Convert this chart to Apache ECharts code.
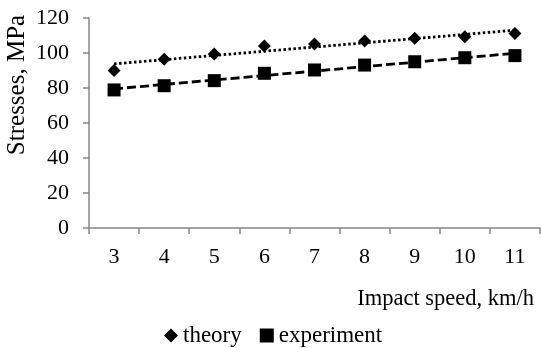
<!DOCTYPE html>
<html>
<head>
<meta charset="utf-8">
<script src="https://cdn.jsdelivr.net/npm/echarts@6/dist/echarts.min.js"></script>
<style>html,body{margin:0;padding:0;background:#fff}#c{width:542px;height:348px}</style>
</head>
<body>
<div id="c"></div>
<script>
// Data
var categories = ['3', '4', '5', '6', '7', '8', '9', '10', '11'];
var speeds = [3, 4, 5, 6, 7, 8, 9, 10, 11];
var theory = [90, 96.4, 99.4, 104, 105.1, 106.9, 108.4, 109.3, 111.2];
var experiment = [78.9, 81.3, 84.2, 88.4, 90.3, 93.1, 95, 97.3, 98.5];
var yTicks = { min: 0, max: 120, interval: 20 };
var xAxisTitle = 'Impact speed, km/h';
var yAxisTitle = 'Stresses, MPa';

// Linear trend lines (least squares of the read data, as in the source spreadsheet)
function linearTrend(xs, ys) {
  var n = xs.length, mx = 0, my = 0;
  for (var i = 0; i < n; i++) { mx += xs[i]; my += ys[i]; }
  mx /= n; my /= n;
  var sxy = 0, sxx = 0;
  for (var j = 0; j < n; j++) { sxy += (xs[j] - mx) * (ys[j] - my); sxx += (xs[j] - mx) * (xs[j] - mx); }
  var b = sxy / sxx, a = my - b * mx;
  return xs.map(function (x) { return +(a + b * x).toFixed(3); });
}
var theoryTrend = linearTrend(speeds, theory);
var experimentTrend = linearTrend(speeds, experiment);

var FONT = 'Liberation Serif';
var AXIS_COLOR = '#868686';
var labelStyle = { color: '#000', fontFamily: FONT, fontSize: 22, fontWeight: 'normal', fontStyle: 'normal' };
var legendText = { color: '#000', fontFamily: FONT, fontSize: 23, fontWeight: 'normal', fontStyle: 'normal' };

var chart = echarts.init(document.getElementById('c'), null, { renderer: 'canvas' });
chart.setOption({
  animation: false,
  backgroundColor: '#fff',
  textStyle: { fontFamily: FONT },
  grid: { left: 89, right: 2, top: 18, bottom: 120, containLabel: false },
  xAxis: {
    type: 'category',
    data: categories,
    boundaryGap: true,
    axisLine: { show: true, lineStyle: { color: AXIS_COLOR, width: 1.5 } },
    axisTick: { show: true, inside: false, length: 6, lineStyle: { color: AXIS_COLOR, width: 1.5 } },
    axisLabel: Object.assign({ margin: 18 }, labelStyle),
    splitLine: { show: false }
  },
  yAxis: {
    type: 'value',
    min: yTicks.min, max: yTicks.max, interval: yTicks.interval,
    axisLine: { show: true, lineStyle: { color: AXIS_COLOR, width: 1.5 } },
    axisTick: { show: true, inside: false, length: 6, lineStyle: { color: AXIS_COLOR, width: 1.5 } },
    axisLabel: Object.assign({ margin: 20 }, labelStyle),
    splitLine: { show: false }
  },
  legend: {
    left: 159, top: 319,
    itemWidth: 14, itemHeight: 14, itemGap: 18,
    formatter: function (name) { return '{t|' + name + '}'; },
    textStyle: Object.assign({ rich: { t: legendText } }, legendText),
    data: [
      { name: 'theory', icon: 'diamond' },
      { name: 'experiment', icon: 'rect' }
    ]
  },
  graphic: [
    {
      type: 'text', x: 534, y: 299,
      style: { text: xAxisTitle, fill: '#000', fontFamily: FONT, fontSize: 22.5, align: 'right', verticalAlign: 'middle' }
    },
    {
      type: 'text', x: 17, y: 85, rotation: Math.PI / 2,
      style: { text: yAxisTitle, fill: '#000', fontFamily: FONT, fontSize: 25, align: 'center', verticalAlign: 'middle' }
    }
  ],
  series: [
    {
      name: 'theory trend', type: 'line', data: theoryTrend, symbol: 'none', silent: true, z: 1,
      lineStyle: { color: '#000', width: 2.8, type: [2.5, 2.5] }
    },
    {
      name: 'experiment trend', type: 'line', data: experimentTrend, symbol: 'none', silent: true, z: 1,
      lineStyle: { color: '#000', width: 2.8, type: [9, 4] }
    },
    {
      name: 'theory', type: 'line', data: theory, symbol: 'diamond', symbolSize: [13, 13], z: 3,
      lineStyle: { width: 0, opacity: 0 }, itemStyle: { color: '#000' }
    },
    {
      name: 'experiment', type: 'line', data: experiment, symbol: 'rect', symbolSize: [13, 13], z: 3,
      lineStyle: { width: 0, opacity: 0 }, itemStyle: { color: '#000' }
    }
  ]
});
</script>
</body>
</html>
